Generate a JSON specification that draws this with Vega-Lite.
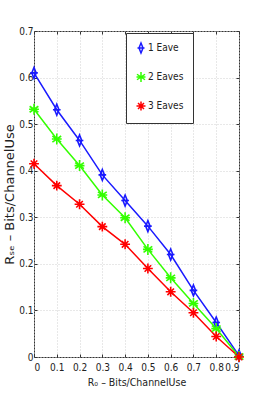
{
  "$schema": "https://vega.github.io/schema/vega-lite/v6.json",
  "width": 205,
  "height": 326,
  "autosize": "none",
  "padding": {"left": 34, "top": 31, "right": 25, "bottom": 52},
  "background": "white",
  "config": {
    "view": {"stroke": "#333", "strokeWidth": 1},
    "axis": {
      "labelFont": "Liberation Sans Narrow, DejaVu Sans Condensed, sans-serif",
      "labelFontSize": 10,
      "labelColor": "#222",
      "domain": false,
      "tickColor": "#333",
      "tickSize": -3,
      "grid": true,
      "gridColor": "#d0d0d0",
      "gridDash": [1, 2],
      "gridWidth": 1,
      "labelExpr": "datum.value == 0 ? '0' : format(datum.value, '.1f')"
    }
  },
  "data": {
    "values": [
      {"r0": 0.0, "rse": 0.61, "series": "1 Eave"},
      {"r0": 0.1, "rse": 0.531, "series": "1 Eave"},
      {"r0": 0.2, "rse": 0.465, "series": "1 Eave"},
      {"r0": 0.3, "rse": 0.391, "series": "1 Eave"},
      {"r0": 0.4, "rse": 0.336, "series": "1 Eave"},
      {"r0": 0.5, "rse": 0.281, "series": "1 Eave"},
      {"r0": 0.6, "rse": 0.22, "series": "1 Eave"},
      {"r0": 0.7, "rse": 0.143, "series": "1 Eave"},
      {"r0": 0.8, "rse": 0.074, "series": "1 Eave"},
      {"r0": 0.9, "rse": 0.003, "series": "1 Eave"},
      {"r0": 0.0, "rse": 0.532, "series": "2 Eaves"},
      {"r0": 0.1, "rse": 0.468, "series": "2 Eaves"},
      {"r0": 0.2, "rse": 0.411, "series": "2 Eaves"},
      {"r0": 0.3, "rse": 0.348, "series": "2 Eaves"},
      {"r0": 0.4, "rse": 0.299, "series": "2 Eaves"},
      {"r0": 0.5, "rse": 0.231, "series": "2 Eaves"},
      {"r0": 0.6, "rse": 0.17, "series": "2 Eaves"},
      {"r0": 0.7, "rse": 0.115, "series": "2 Eaves"},
      {"r0": 0.8, "rse": 0.061, "series": "2 Eaves"},
      {"r0": 0.9, "rse": 0.001, "series": "2 Eaves"},
      {"r0": 0.0, "rse": 0.415, "series": "3 Eaves"},
      {"r0": 0.1, "rse": 0.368, "series": "3 Eaves"},
      {"r0": 0.2, "rse": 0.328, "series": "3 Eaves"},
      {"r0": 0.3, "rse": 0.28, "series": "3 Eaves"},
      {"r0": 0.4, "rse": 0.242, "series": "3 Eaves"},
      {"r0": 0.5, "rse": 0.19, "series": "3 Eaves"},
      {"r0": 0.6, "rse": 0.14, "series": "3 Eaves"},
      {"r0": 0.7, "rse": 0.095, "series": "3 Eaves"},
      {"r0": 0.8, "rse": 0.044, "series": "3 Eaves"},
      {"r0": 0.9, "rse": 0.0, "series": "3 Eaves"}
    ]
  },
  "resolve": {"axis": {"x": "independent", "y": "independent"}},
  "layer": [
    {
      "mark": {"type": "line", "strokeWidth": 1.5},
      "encoding": {
        "x": {
          "field": "r0", "type": "quantitative",
          "scale": {"domain": [0, 0.9], "nice": false, "zero": false},
          "axis": {"values": [0, 0.1, 0.2, 0.3, 0.4, 0.5, 0.6, 0.7, 0.8, 0.9], "labelPadding": 8,
            "title": "R₀ – Bits/ChannelUse",
            "titleFont": "Liberation Sans Narrow, DejaVu Sans Condensed, sans-serif",
            "titleFontSize": 10.5, "titleFontWeight": "normal", "titleColor": "#222", "titlePadding": 5}
        },
        "y": {
          "field": "rse", "type": "quantitative",
          "scale": {"domain": [0, 0.7], "nice": false},
          "axis": {"values": [0, 0.1, 0.2, 0.3, 0.4, 0.5, 0.6, 0.7], "labelPadding": 4,
            "title": "Rₛₑ – Bits/ChannelUse",
            "titleFont": "DejaVu Sans, sans-serif",
            "titleFontSize": 13, "titleFontWeight": "normal", "titleColor": "#222", "titlePadding": 2}
        },
        "color": {
          "field": "series", "type": "nominal",
          "scale": {"domain": ["1 Eave", "2 Eaves", "3 Eaves"], "range": ["#1a1aff", "#33ff00", "#ff0000"]},
          "legend": {
            "title": null,
            "orient": "none",
            "legendX": 92,
            "legendY": 2,
            "strokeColor": "#333",
            "fillColor": "white",
            "padding": 9,
            "rowPadding": 13,
            "labelFont": "Liberation Sans Narrow, DejaVu Sans Condensed, sans-serif",
            "labelFontSize": 10,
            "labelColor": "#222",
            "labelOffset": 1,
            "symbolSize": 100,
            "symbolStrokeWidth": 1.5
          }
        }
      }
    },
    {
      "mark": {"type": "point", "filled": false, "strokeWidth": 1.6, "opacity": 1},
      "encoding": {
        "x": {"field": "r0", "type": "quantitative", "axis": null},
        "y": {"field": "rse", "type": "quantitative", "axis": null},
        "color": {"field": "series", "type": "nominal"},
        "shape": {
          "field": "series", "type": "nominal",
          "scale": {"domain": ["1 Eave", "2 Eaves", "3 Eaves"],
            "range": [
              "M0,-1L0.4,0L0,1L-0.4,0Z M-0.7,0L0.7,0",
              "M0,-1L0,1M-0.8,-0.55L0.8,0.55M-0.8,0.55L0.8,-0.55M-0.9,0L0.9,0",
              "M0,-0.9L0,0.9M-0.9,0L0.9,0M-0.6,-0.6L0.6,0.6M-0.6,0.6L0.6,-0.6"
            ]},
          "legend": null
        },
        "size": {"value": 120}
      }
    },
    {
      "mark": {"type": "point", "opacity": 0},
      "encoding": {
        "x": {"field": "r0", "type": "quantitative",
          "axis": {"orient": "top", "values": [0, 0.1, 0.2, 0.3, 0.4, 0.5, 0.6, 0.7, 0.8, 0.9], "labels": false, "grid": false, "title": null}},
        "y": {"field": "rse", "type": "quantitative",
          "axis": {"orient": "right", "values": [0, 0.1, 0.2, 0.3, 0.4, 0.5, 0.6, 0.7], "labels": false, "grid": false, "title": null}}
      }
    }
  ]
}
